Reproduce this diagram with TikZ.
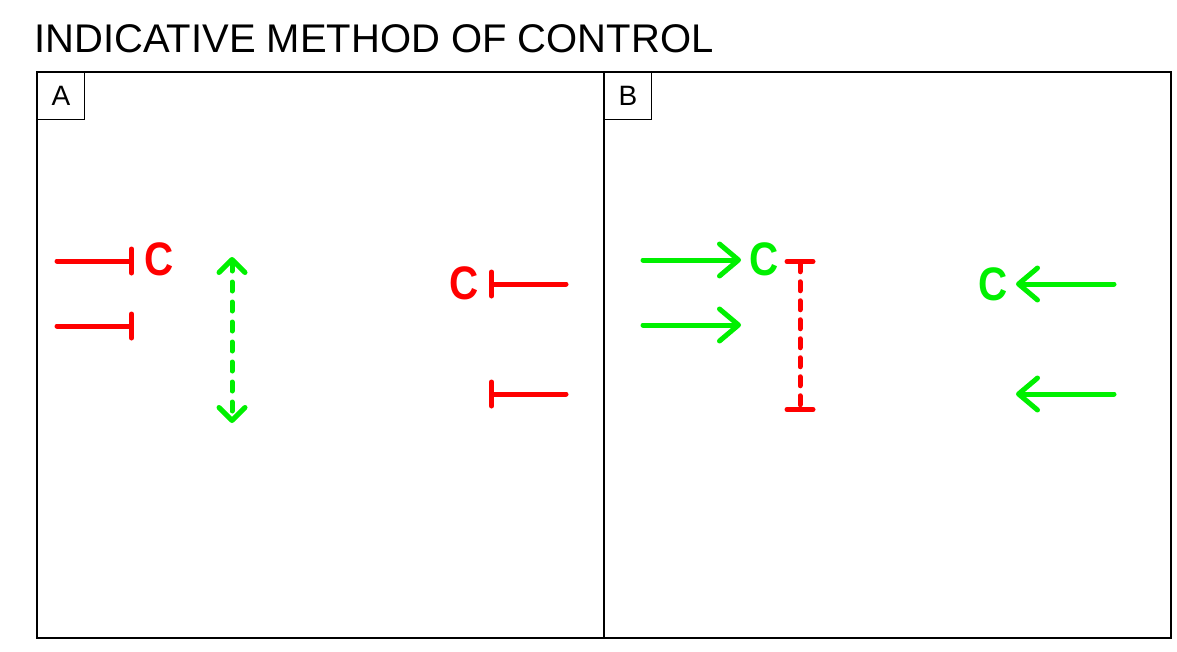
\documentclass[tikz,border=0pt]{standalone}
\usepackage{fontspec}
\setmainfont{Liberation Sans}
\usetikzlibrary{arrows.meta}
\definecolor{cred}{RGB}{255,0,0}
\definecolor{cgreen}{RGB}{0,240,0}
\newcommand{\narrowC}{\scalebox{0.86}[1]{C}}
\begin{document}
\begin{tikzpicture}[x=1pt,y=-1pt,
  panel/.style={draw=black,line width=1.3pt},
  tag/.style={draw=black,line width=0.9pt,minimum width=47pt,minimum height=47pt,inner sep=0pt,anchor=north west,font=\fontsize{28}{30}\selectfont},
  cletter/.style={inner sep=0pt,font=\fontsize{47}{50}\selectfont\bfseries},
  tbar/.style={draw=cred,line width=5pt,line cap=round,-{Bar[width=24pt,round]}},
  garrow/.style={draw=cgreen,line width=5pt,line cap=round,-{Straight Barb[length=19pt,width=32pt,round]}},
  gdash/.style={draw=cgreen,line width=5pt,line cap=round,dash pattern=on 9pt off 11pt,{Straight Barb[length=13pt,width=26pt,round]}-{Straight Barb[length=13pt,width=26pt,round]}},
  rdash/.style={draw=cred,line width=5pt,line cap=round,dash pattern=on 9pt off 10pt,{Bar[width=26pt,round]}-{Bar[width=26pt,round]}}
]
\useasboundingbox (0,0) rectangle (1177,651);
\node[anchor=base west,inner sep=0pt,font=\fontsize{40}{42}\selectfont] (title) at (34,52) {INDICATIVE METHOD OF CONTROL};
% panels
\draw[panel] (37,72) rectangle (604,638);
\draw[panel] (604,72) rectangle (1171,638);
\node[tag] (tagA) at (37,72) {A};
\node[tag] (tagB) at (604,72) {B};
% Panel A
\node[cletter,text=cred] (ca1) at (159,259) {\narrowC};
\coordinate (a1s) at (57,261);
\coordinate (a1e) at (134,261);
\draw[tbar] (a1s) -- (a1e);
\coordinate (a2s) at (57,326);
\coordinate (a2e) at (134,326);
\draw[tbar] (a2s) -- (a2e);
\coordinate (gd1) at (232,257);
\coordinate (gd2) at (232,423);
\draw[gdash] (gd1) -- (gd2);
\node[cletter,text=cred] (ca2) at (464,283) {\narrowC};
\coordinate (a3s) at (566,284);
\coordinate (a3e) at (489,284);
\draw[tbar] (a3s) -- (a3e);
\coordinate (a4s) at (566,394);
\coordinate (a4e) at (489,394);
\draw[tbar] (a4s) -- (a4e);
% Panel B
\node[cletter,text=cgreen] (cb1) at (764,259) {\narrowC};
\coordinate (b1s) at (643,260);
\coordinate (b1e) at (741,260);
\draw[garrow] (b1s) -- (b1e);
\coordinate (b2s) at (643,325);
\coordinate (b2e) at (741,325);
\draw[garrow] (b2s) -- (b2e);
\coordinate (rd1) at (800,259);
\coordinate (rd2) at (800,412);
\draw[rdash] (rd1) -- (rd2);
\node[cletter,text=cgreen] (cb2) at (993,284) {\narrowC};
\coordinate (b3s) at (1114,284);
\coordinate (b3e) at (1016,284);
\draw[garrow] (b3s) -- (b3e);
\coordinate (b4s) at (1114,394);
\coordinate (b4e) at (1016,394);
\draw[garrow] (b4s) -- (b4e);
\end{tikzpicture}
\end{document}
